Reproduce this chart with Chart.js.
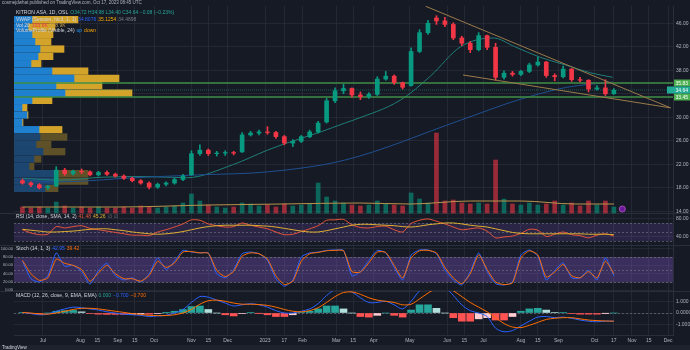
<!DOCTYPE html>
<html>
<head>
<meta charset="utf-8">
<script src="https://cdn.jsdelivr.net/npm/chart.js@4.4.1/dist/chart.umd.min.js"></script>
<style>
  html, body { margin: 0; padding: 0; background: #161a25; }
  canvas { display: block; }
</style>
</head>
<body>
<canvas id="chart" width="690" height="350"></canvas>
<script>
// Kitron ASA (OSL) - weekly candles, Jun 2022 - Oct 2023
const firstWeek = "2022-06-14";

const opens = [
  19.2, 18.8, 18.5, 18.0, 18.3, 21.0, 20.4, 20.8, 20.7, 20.2,
  20.6, 20.3, 20.0, 19.6, 19.2, 18.8, 18.1, 18.6, 18.8, 19.4,
  20.2, 23.8, 24.4, 23.8, 23.9, 24.0, 24.1, 27.0, 27.3, 27.5,
  27.4, 26.7, 25.6, 25.9, 26.7, 27.5, 29.2, 32.8, 34.5, 34.9,
  33.8, 33.5, 33.9, 36.5, 37.0, 35.9, 35.4, 41.2, 44.4, 46.9,
  46.4, 45.8, 43.5, 42.6, 41.5, 43.9, 41.9, 36.8, 37.5, 37.3,
  37.8, 38.9, 39.4, 37.1, 36.9, 38.2, 36.4, 36.3, 34.8, 35.0,
  34.0
];
const highs = [
  19.5, 19.0, 18.7, 18.4, 21.6, 21.3, 21.0, 21.2, 20.9, 20.8,
  20.9, 20.5, 20.2, 19.8, 19.4, 19.0, 18.8, 19.0, 19.6, 20.3,
  24.3, 25.3, 24.6, 24.2, 24.3, 24.2, 27.4, 27.6, 27.8, 28.4,
  27.6, 26.9, 26.2, 26.9, 27.8, 29.3, 33.2, 35.0, 35.6, 35.0,
  34.3, 34.2, 36.9, 37.8, 37.2, 36.0, 41.8, 44.9, 46.5, 47.3,
  47.0, 46.1, 43.8, 42.9, 44.4, 44.0, 42.6, 37.9, 37.8, 38.0,
  39.2, 40.2, 39.5, 37.4, 38.7, 38.3, 36.8, 36.4, 35.4, 36.4,
  34.9
];
const lows = [
  18.6, 18.2, 17.8, 17.7, 18.2, 20.1, 20.2, 20.4, 20.0, 20.0,
  20.1, 19.8, 19.4, 19.0, 18.6, 17.8, 17.9, 18.3, 18.6, 19.2,
  20.1, 23.5, 23.5, 23.4, 23.5, 23.6, 24.0, 26.8, 27.0, 27.1,
  26.4, 25.3, 25.0, 25.7, 26.5, 27.3, 29.0, 32.5, 34.0, 33.4,
  33.0, 33.2, 33.7, 36.3, 35.6, 34.8, 35.3, 41.0, 44.1, 45.8,
  45.4, 43.2, 42.2, 41.0, 41.3, 41.5, 36.3, 36.5, 37.0, 37.1,
  37.6, 38.7, 36.8, 36.2, 36.7, 36.1, 36.0, 34.3, 34.6, 33.7,
  33.9
];
const closes = [
  18.8, 18.5, 18.0, 18.2, 21.0, 20.4, 20.8, 20.7, 20.2, 20.6,
  20.3, 20.0, 19.6, 19.2, 18.8, 18.1, 18.6, 18.8, 19.4, 20.0,
  23.8, 24.4, 23.8, 23.9, 24.0, 23.9, 27.0, 27.3, 27.5, 27.4,
  26.7, 25.6, 25.9, 26.7, 27.5, 29.0, 32.8, 34.5, 34.9, 33.8,
  33.5, 33.9, 36.5, 37.0, 35.9, 35.1, 41.2, 44.4, 46.0, 46.4,
  45.8, 43.5, 42.6, 41.5, 43.9, 41.9, 36.8, 37.5, 37.3, 37.8,
  38.9, 39.4, 37.1, 36.9, 38.2, 36.4, 36.3, 34.8, 35.0, 34.0,
  34.6
];
const volumes = [
  6, 5, 6, 5, 11, 7, 5, 6, 5, 6,
  5, 5, 6, 5, 7, 6, 5, 6, 7, 10,
  19, 12, 8, 6, 5, 6, 10, 9, 7, 8,
  6, 9, 7, 8, 9, 30, 16, 12, 10, 8,
  7, 8, 12, 9, 8, 7, 20, 14, 10, 80,
  12, 13, 10, 9, 10, 9, 53, 14, 9, 8,
  10, 8, 9, 12, 8, 10, 7, 12, 8, 12,
  6
];
const rsi = [
  55, 48, 44, 45, 62, 59, 62, 64, 58, 55,
  52, 49, 46, 43, 43, 42, 50, 55, 61, 68,
  77, 76, 68, 64, 61, 62, 70, 65, 61, 57,
  50, 44, 45, 51, 57, 64, 76, 77, 78, 66,
  60, 59, 62, 63, 55, 50, 69, 76, 79, 74,
  68, 61, 55, 57, 59, 52, 37, 39, 41, 47,
  56, 54, 40, 45, 50, 44, 42, 37, 43, 46,
  41
];
const rsiMa = [
  56, 54, 52, 50, 50, 51, 52, 54, 56, 57,
  57, 55, 53, 50, 48, 46, 45, 46, 48, 51,
  55, 59, 62, 64, 65, 65, 65, 65, 64, 63,
  61, 58, 55, 52, 50, 50, 53, 57, 61, 65,
  67, 67, 66, 65, 64, 62, 61, 63, 66, 68,
  70, 70, 68, 65, 63, 61, 57, 53, 49, 47,
  46, 46, 46, 46, 46, 46, 46, 45, 45, 45,
  44
];
const stochK = [
  70, 28, 20, 35, 90, 58, 60, 45, 15, 48,
  65, 35, 25, 30, 20, 40, 78, 50, 70, 96,
  92, 90, 90, 40, 30, 50, 88, 92, 88, 72,
  28, 10, 25, 80, 90, 92, 96, 97, 96, 35,
  45, 72, 96, 90, 55, 25, 85, 97, 97, 88,
  49, 25, 13, 45, 90, 45, 16, 13, 20, 85,
  97, 82, 25, 48, 66, 30, 30, 48, 25, 78,
  35
];
const stochD = [
  72, 40, 24, 30, 75, 65, 60, 50, 22, 42,
  60, 40, 28, 28, 22, 36, 70, 55, 66, 92,
  93, 90, 89, 48, 33, 46, 82, 90, 88, 75,
  35, 14, 22, 70, 88, 91, 95, 96, 95, 45,
  44, 66, 92, 91, 60, 30, 78, 95, 96, 90,
  55, 30, 16, 40, 85, 50, 20, 14, 18, 78,
  95, 85, 32, 44, 62, 35, 30, 45, 30, 70,
  40
];
const macd = [
  0.05, -0.05, -0.15, -0.1, 0.15, 0.35, 0.5, 0.45, 0.35, 0.25,
  0.1, 0.0, -0.1, -0.15, -0.2, -0.3, -0.25, -0.2, 0.0, 0.3,
  0.9, 1.4, 1.35, 1.1, 0.85, 0.6, 0.7, 0.8, 0.7, 0.5,
  0.2, 0.0, 0.0, 0.15, 0.35, 0.8, 1.5, 2.0, 2.1, 1.8,
  1.3, 0.9, 0.9, 1.0, 0.7, 0.35, 1.0, 1.9, 2.4, 2.5,
  2.2, 1.5, 0.7, 0.2, 0.0, -0.3, -1.3, -1.6, -1.5, -1.1,
  -0.7, -0.35, -0.3, -0.4, -0.35, -0.45, -0.6, -0.7, -0.75, -0.7,
  -0.7
];
const signal = [
  0.05, 0.0, -0.08, -0.1, 0.0, 0.15, 0.3, 0.4, 0.4, 0.35,
  0.25, 0.15, 0.05, -0.05, -0.12, -0.2, -0.22, -0.22, -0.15, 0.0,
  0.3, 0.75, 1.05, 1.1, 1.0, 0.85, 0.75, 0.75, 0.72, 0.65,
  0.5, 0.3, 0.15, 0.1, 0.2, 0.45, 0.9, 1.4, 1.75, 1.8,
  1.6, 1.3, 1.1, 1.0, 0.9, 0.7, 0.75, 1.2, 1.7, 2.1,
  2.2, 1.9, 1.4, 0.9, 0.5, 0.1, -0.4, -0.9, -1.2, -1.25,
  -1.05, -0.8, -0.55, -0.45, -0.4, -0.4, -0.5, -0.6, -0.65, -0.68,
  -0.7
];
const hist = [
  0.05, -0.05, -0.08, 0.0, 0.15, 0.2, 0.22, 0.1, -0.05, -0.1,
  -0.12, -0.12, -0.12, -0.1, -0.08, -0.1, -0.05, 0.02, 0.15, 0.3,
  0.55, 0.6, 0.3, 0.0, -0.15, -0.25, -0.05, 0.05, -0.02, -0.15,
  -0.3, -0.3, -0.15, 0.05, 0.15, 0.35, 0.6, 0.6, 0.35, 0.0,
  -0.3, -0.35, -0.2, 0.0, -0.2, -0.35, 0.25, 0.7, 0.7, 0.4,
  0.0, -0.4, -0.7, -0.7, -0.5, -0.4, -0.6, -0.6, -0.3, 0.15,
  0.35, 0.4, 0.25, 0.05, 0.05, -0.05, -0.1, -0.1, -0.1, -0.02,
  0.0
];

// moving averages (sparse points)
const ma50Dates = ["2022-06-14", "2022-07-15", "2022-08-20", "2022-09-25", "2022-10-28", "2022-12-05", "2023-01-03", "2023-01-19", "2023-02-16", "2023-03-08", "2023-03-15", "2023-04-23", "2023-05-18", "2023-06-12", "2023-07-09", "2023-07-27", "2023-08-17", "2023-09-07", "2023-09-27", "2023-10-16"];
const ma50 = [19.6, 19.3, 19.8, 19.9, 19.7, 21.9, 24.4, 25.6, 27.5, 29.0, 29.5, 32.9, 37.0, 42.0, 43.5, 42.0, 40.2, 38.9, 37.6, 36.8];
const ma200Dates = ["2022-06-14", "2022-07-15", "2022-09-14", "2022-11-08", "2023-01-03", "2023-03-08", "2023-06-12", "2023-07-29", "2023-09-08", "2023-10-16"];
const ma200 = [19.2, 19.0, 19.7, 20.2, 20.7, 22.7, 29.5, 32.9, 35.1, 36.0];
const volMaDates = ["2022-06-14", "2022-09-01", "2022-11-15", "2023-01-15", "2023-03-20", "2023-05-01", "2023-06-20", "2023-08-01", "2023-09-15", "2023-10-17"];
const volMa = [6, 6, 8, 9, 10, 9, 12, 12, 9, 9];

// drawings
const upperTrendDates = ["2023-05-14", "2023-12-03"];
const upperTrend = [48.9, 31.6];
const lowerTrendDates = ["2023-06-14", "2023-12-03"];
const lowerTrend = [37.2, 31.6];
const levelPrices = [35.83, 33.45];
const lastPrice = 34.64;
const eventDates = ["2023-10-24"];

// visible-range volume profile
const vpPrices = [46.61, 45.36, 44.11, 42.86, 41.61, 40.36, 39.12, 37.87, 36.62, 35.37, 34.12, 32.87, 31.63, 30.38, 29.13, 27.88, 26.63, 25.38, 24.14, 22.89, 21.64, 20.39, 19.14, 17.89];
const vpUp = [18, 14, 18, 21, 26, 24, 17, 38, 60, 42, 51, 18, 8, 13, 8, 25, 26, 22, 29, 20, 15, 40, 40, 31];
const vpDown = [46, 27, 21, 16, 24, 15, 10, 36, 45, 46, 67, 20, 5, 1, 1, 23, 27, 15, 22, 7, 5, 34, 34, 13];
const vpValueAreaLow = 27.5;

// axes
const xTickDates = ["2022-07-01", "2022-08-01", "2022-08-15", "2022-09-01", "2022-09-15", "2022-10-01", "2022-11-01", "2022-11-15", "2022-12-01", "2023-01-01", "2023-01-17", "2023-02-01", "2023-03-01", "2023-03-15", "2023-04-01", "2023-05-01", "2023-06-01", "2023-06-15", "2023-07-01", "2023-08-01", "2023-08-15", "2023-09-01", "2023-10-01", "2023-10-17", "2023-11-01", "2023-11-15", "2023-12-01"];
const xTickLabels = ["Jul", "Aug", "15", "Sep", "15", "Oct", "Nov", "15", "Dec", "2023", "17", "Feb", "Mar", "15", "Apr", "May", "Jun", "15", "Jul", "Aug", "15", "Sep", "Oct", "17", "Nov", "15", "Dec"];
const priceTicks = [14, 16, 18, 20, 22, 24, 26, 28, 30, 32, 34, 36, 38, 40, 42, 44, 46, 48];
const rsiTicks = [80, 60, 40];
const stochTicks = [100, 80, 60, 40, 20, 0];
const macdTicks = [1, 0, -1];
const rsiGuides = [70, 50, 30];
const stochGuides = [80, 50, 20];

const dayZero = Date.UTC(2022, 6, 1);
function dayOf(s) {
  const [y, m, d] = s.split("-").map(Number);
  return (Date.UTC(y, m - 1, d) - dayZero) / 864e5;
}
const weekDays = closes.map((_, i) => dayOf(firstWeek) + 7 * i);
const xMin = dayOf("2022-06-07");
const xMax = dayOf("2023-12-05");
const pts = (dates, vals) => dates.map((d, i) => ({ x: dayOf(d), y: vals[i] }));

const UP = "#089981", DOWN = "#f23645";
const isUp = i => closes[i] >= opens[i];
const candleCol = weekDays.map((_, i) => (isUp(i) ? UP : DOWN));
const volCol = weekDays.map((_, i) => (isUp(i) ? "rgba(8,153,129,0.6)" : "rgba(242,54,69,0.6)"));
const histCol = hist.map((v, i) => {
  const prev = i ? hist[i - 1] : 0;
  if (v >= 0) return v >= prev ? "#26a69a" : "#b2dfdb";
  return v <= prev ? "#ff5252" : "#ffcdd2";
});
const vpBright = vpPrices.map(p => p >= vpValueAreaLow);

Chart.defaults.font.family = "'Liberation Sans', Arial, sans-serif";
Chart.defaults.font.size = 5;
Chart.defaults.color = "#b2b5be";

const gridCol = "rgba(42,46,57,0.75)";
const rightAxis = (extra) => Object.assign({
  type: "linear", axis: "y", position: "right", stack: "panes", offset: false, clip: true,
  grid: { color: gridCol, drawTicks: false, offset: false },
  border: { display: true, color: "#2a2e39" },
  ticks: { padding: 3, color: "#b2b5be", font: { size: 5 } },
  afterFit: s => { s.width = 17; }
}, extra);

const decor = {
  id: "decor",
  beforeDraw(chart) {
    const { ctx, width, height } = chart;
    ctx.save();
    ctx.fillStyle = "#161a25";
    ctx.fillRect(0, 0, width, height);
    ctx.fillStyle = "#1e222d";
    ctx.fillRect(0, height - 5, width, 5);
    ctx.restore();
  },
  beforeDatasetsDraw(chart) {
    const { ctx, chartArea: a, scales: s, width } = chart;
    ctx.save();
    const band = (sc, lo, hi, col) => {
      const y1 = sc.getPixelForValue(hi), y2 = sc.getPixelForValue(lo);
      ctx.fillStyle = col;
      ctx.fillRect(a.left, y1, a.right - a.left, y2 - y1);
    };
    band(s.yrsi, 30, 70, "rgba(126,87,194,0.2)");
    band(s.ystoch, 20, 80, "rgba(126,87,194,0.35)");
    ctx.lineWidth = 1;
    ctx.strokeStyle = "rgba(120,123,134,0.6)";
    ctx.setLineDash([2, 2]);
    const hline = (sc, v) => {
      const y = Math.round(sc.getPixelForValue(v)) + 0.5;
      ctx.beginPath(); ctx.moveTo(a.left, y); ctx.lineTo(a.right, y); ctx.stroke();
    };
    rsiGuides.forEach(v => hline(s.yrsi, v));
    stochGuides.forEach(v => hline(s.ystoch, v));
    hline(s.ymacd, 0);
    ctx.setLineDash([]);
    ctx.strokeStyle = "#2a2e39";
    [s.yrsi.top, s.ystoch.top, s.ymacd.top].forEach(y => {
      const yy = Math.round(y) + 0.5;
      ctx.beginPath(); ctx.moveTo(0, yy); ctx.lineTo(width, yy); ctx.stroke();
    });
    ctx.restore();
  },
  afterDraw(chart) {
    const { ctx, chartArea: a, scales: s } = chart;
    ctx.save();
    ctx.textBaseline = "middle";
    ctx.textAlign = "left";
    const run = (x, y, parts, size) => {
      ctx.font = (size || 5) + "px 'Liberation Sans', Arial, sans-serif";
      parts.forEach(([t, c]) => { ctx.fillStyle = c; ctx.fillText(t, x, y); x += ctx.measureText(t).width + 2; });
    };
    run(2, 3, [["cosmejdwhat published on TradingView.com, Oct 17, 2023 08:45 UTC", "#b2b5be"]], 4.5);
    run(16, 13, [["KITRON ASA, 1D, OSL", "#d1d4dc"], ["O34.72 H34.98 L34.40 C34.64 \u22120.08 (\u22120.23%)", "#26a69a"]]);
    run(16, 19.5, [["VWAP (Session, hlc3, 1, 1)", "#d1d4dc"], ["34.8076", "#2962ff"], ["35.1254", "#f7a600"], ["34.4898", "#787b86"]]);
    run(16, 25.5, [["Vol 20", "#d1d4dc"], ["193.6K", "#f23645"], ["228.9K", "#c8a04a"]]);
    run(16, 31, [["VolumeProfile (Visible, 24)", "#d1d4dc"], ["up", "#2196f3"], ["down", "#f7a600"]]);
    run(16, s.yrsi.top + 4, [["RSI (14, close, SMA, 14, 2)", "#d1d4dc"], ["41.48", "#e8553a"], ["45.26", "#e0b030"], ["\u2205", "#787b86"], ["\u2205", "#787b86"]]);
    run(16, s.ystoch.top + 4, [["Stoch (14, 1, 3)", "#d1d4dc"], ["42.95", "#2962ff"], ["39.42", "#ff6d00"]]);
    run(16, s.ymacd.top + 5, [["MACD (12, 26, close, 9, EMA, EMA)", "#d1d4dc"], ["0.000", "#26a69a"], ["\u22120.700", "#2962ff"], ["\u22120.700", "#ff6d00"]]);

    // stoch labels on the left edge
    ctx.font = "4px 'Liberation Sans', Arial, sans-serif";
    ctx.fillStyle = "#b2b5be";
    ctx.textAlign = "right";
    stochTicks.forEach(v => ctx.fillText(v.toFixed(2), 13, s.ystoch.getPixelForValue(v)));

    // price scale labels for levels and last price
    ctx.textAlign = "left";
    ctx.font = "5px 'Liberation Sans', Arial, sans-serif";
    const tag = (v, fill, x0) => {
      const y = s.y.getPixelForValue(v);
      ctx.fillStyle = fill;
      ctx.fillRect(x0, y - 3.5, 690 - x0, 7);
      ctx.fillStyle = "#ffffff";
      ctx.fillText(v.toFixed(2), a.right + 2.5, y + 0.3);
    };
    levelPrices.forEach(v => tag(v, "#4caf50", a.right + 1));
    tag(lastPrice, "#22ab94", a.right - 6);

    // TradingView mark in the bottom strip
    run(2, chart.height - 2.5, [["TradingView", "#d1d4dc"]], 4.5);
    ctx.restore();
  }
};

const volumeProfileUp = vpPrices.map((p, i) => ({ x: [0, vpUp[i]], y: p }));
const volumeProfileDown = vpPrices.map((p, i) => ({ x: [vpUp[i], vpUp[i] + vpDown[i]], y: p }));

new Chart(document.getElementById("chart"), {
  type: "bar",
  data: {
    datasets: [
      { label: "VP up", indexAxis: "y", xAxisID: "xvp", yAxisID: "y", data: volumeProfileUp, grouped: false, barThickness: 6.6, order: 20,
        backgroundColor: vpBright.map(b => (b ? "#1f80d0" : "#1c4670")) },
      { label: "VP down", indexAxis: "y", xAxisID: "xvp", yAxisID: "y", data: volumeProfileDown, grouped: false, barThickness: 6.6, order: 20,
        backgroundColor: vpBright.map(b => (b ? "#d4a42a" : "#5e5128")) },
      { label: "Volume", yAxisID: "yvol", data: weekDays.map((d, i) => ({ x: d, y: volumes[i] })), grouped: false, barThickness: 4, backgroundColor: volCol, order: 15 },
      { type: "line", label: "Vol MA", yAxisID: "yvol", data: pts(volMaDates, volMa), borderColor: "#b8934a", borderWidth: 1, pointRadius: 0, cubicInterpolationMode: "monotone", order: 14 },
      { type: "line", label: "MA 200", yAxisID: "y", data: pts(ma200Dates, ma200), borderColor: "#1e4f8f", borderWidth: 1, pointRadius: 0, cubicInterpolationMode: "monotone", order: 10 },
      { type: "line", label: "MA 50", yAxisID: "y", data: pts(ma50Dates, ma50), borderColor: "#1f7d78", borderWidth: 1, pointRadius: 0, cubicInterpolationMode: "monotone", order: 10 },
      { type: "line", label: "Level 1", yAxisID: "y", data: [{ x: xMin, y: levelPrices[0] }, { x: xMax, y: levelPrices[0] }], borderColor: "#3f8f45", borderWidth: 1.5, pointRadius: 0, order: 9 },
      { type: "line", label: "Level 2", yAxisID: "y", data: [{ x: xMin, y: levelPrices[1] }, { x: xMax, y: levelPrices[1] }], borderColor: "#3f8f45", borderWidth: 1.5, pointRadius: 0, order: 9 },
      { type: "line", label: "Last", yAxisID: "y", data: [{ x: xMin, y: lastPrice }, { x: xMax, y: lastPrice }], borderColor: "rgba(34,171,148,0.45)", borderWidth: 1, borderDash: [1, 1], pointRadius: 0, order: 9 },
      { label: "Wicks", yAxisID: "y", data: weekDays.map((d, i) => ({ x: d, y: [lows[i], highs[i]] })), grouped: false, barThickness: 1, backgroundColor: candleCol, order: 3 },
      { label: "Bodies", yAxisID: "y", data: weekDays.map((d, i) => ({ x: d, y: [opens[i], closes[i]] })), grouped: false, barThickness: 4, backgroundColor: candleCol, order: 2 },
      { type: "line", label: "Upper trend", yAxisID: "y", data: pts(upperTrendDates, upperTrend), borderColor: "#9a7a4a", borderWidth: 1, pointRadius: 0, order: 1 },
      { type: "line", label: "Lower trend", yAxisID: "y", data: pts(lowerTrendDates, lowerTrend), borderColor: "#9a7a4a", borderWidth: 1, pointRadius: 0, order: 1 },
      { type: "line", label: "Earnings", yAxisID: "yvol", data: eventDates.map(d => ({ x: dayOf(d), y: 4 })), showLine: false, pointRadius: 3, pointBackgroundColor: "#6a1b9a", pointBorderColor: "#ab47bc", pointBorderWidth: 1, order: 1 },
      { type: "line", label: "RSI", yAxisID: "yrsi", data: weekDays.map((d, i) => ({ x: d, y: rsi[i] })), borderColor: "#e8553a", borderWidth: 1, pointRadius: 0, tension: 0.25, order: 2 },
      { type: "line", label: "RSI MA", yAxisID: "yrsi", data: weekDays.map((d, i) => ({ x: d, y: rsiMa[i] })), borderColor: "#e0b030", borderWidth: 1, pointRadius: 0, tension: 0.3, order: 1 },
      { type: "line", label: "%K", yAxisID: "ystoch", data: weekDays.map((d, i) => ({ x: d, y: stochK[i] })), borderColor: "#2962ff", borderWidth: 1, pointRadius: 0, tension: 0.2, order: 2 },
      { type: "line", label: "%D", yAxisID: "ystoch", data: weekDays.map((d, i) => ({ x: d, y: stochD[i] })), borderColor: "#ff6d00", borderWidth: 1, pointRadius: 0, tension: 0.2, order: 1 },
      { label: "Histogram", yAxisID: "ymacd", data: weekDays.map((d, i) => ({ x: d, y: hist[i] })), grouped: false, barThickness: 7, backgroundColor: histCol, order: 3 },
      { type: "line", label: "MACD", yAxisID: "ymacd", data: weekDays.map((d, i) => ({ x: d, y: macd[i] })), borderColor: "#2962ff", borderWidth: 1, pointRadius: 0, tension: 0.3, order: 2 },
      { type: "line", label: "Signal", yAxisID: "ymacd", data: weekDays.map((d, i) => ({ x: d, y: signal[i] })), borderColor: "#ff6d00", borderWidth: 1, pointRadius: 0, tension: 0.3, order: 1 }
    ]
  },
  options: {
    responsive: false,
    animation: false,
    events: [],
    layout: { padding: { left: 14, top: 6, right: 0, bottom: 5 } },
    plugins: { legend: { display: false }, tooltip: { enabled: false } },
    scales: {
      x: {
        type: "linear", axis: "x", position: "bottom", min: xMin, max: xMax, offset: false,
        grid: { color: gridCol, drawTicks: false, offset: false },
        border: { display: true, color: "#2a2e39" },
        afterBuildTicks: s => { s.ticks = xTickDates.map(d => ({ value: dayOf(d) })); },
        afterFit: s => { s.height = 10; },
        ticks: {
          autoSkip: false, maxRotation: 0, padding: 3, color: "#b2b5be", font: { size: 5 },
          callback: v => xTickLabels[xTickDates.findIndex(d => dayOf(d) === v)]
        }
      },
      // hidden axis for the horizontal volume-profile rows (offset off, or 0 shifts right)
      xvp: { type: "linear", axis: "x", position: "bottom", display: false, offset: false, grid: { offset: false }, min: 0, max: 659 },
      y: rightAxis({
        stackWeight: 207, min: 13.7, max: 48.94,
        afterBuildTicks: s => { s.ticks = priceTicks.map(v => ({ value: v })); },
        ticks: { padding: 3, color: "#b2b5be", font: { size: 5 }, callback: v => v.toFixed(2) }
      }),
      yrsi: rightAxis({
        stackWeight: 32, min: 21.1, max: 92.2,
        afterBuildTicks: s => { s.ticks = rsiTicks.map(v => ({ value: v })); },
        ticks: { padding: 3, color: "#b2b5be", font: { size: 5 }, callback: v => v.toFixed(2) }
      }),
      ystoch: rightAxis({
        stackWeight: 46, min: -1.5, max: 108.9,
        afterBuildTicks: s => { s.ticks = stochTicks.map(v => ({ value: v })); },
        ticks: { display: false }
      }),
      ymacd: rightAxis({
        stackWeight: 44, min: -1.88, max: 1.88,
        afterBuildTicks: s => { s.ticks = macdTicks.map(v => ({ value: v })); },
        ticks: { padding: 3, color: "#b2b5be", font: { size: 5 }, callback: v => (v === 0 ? "0.0000" : v.toFixed(3)) }
      }),
      yvol: { type: "linear", axis: "y", position: "right", display: false, offset: false, min: -122, max: 207 }
    }
  },
  plugins: [decor]
});
</script>
</body>
</html>
